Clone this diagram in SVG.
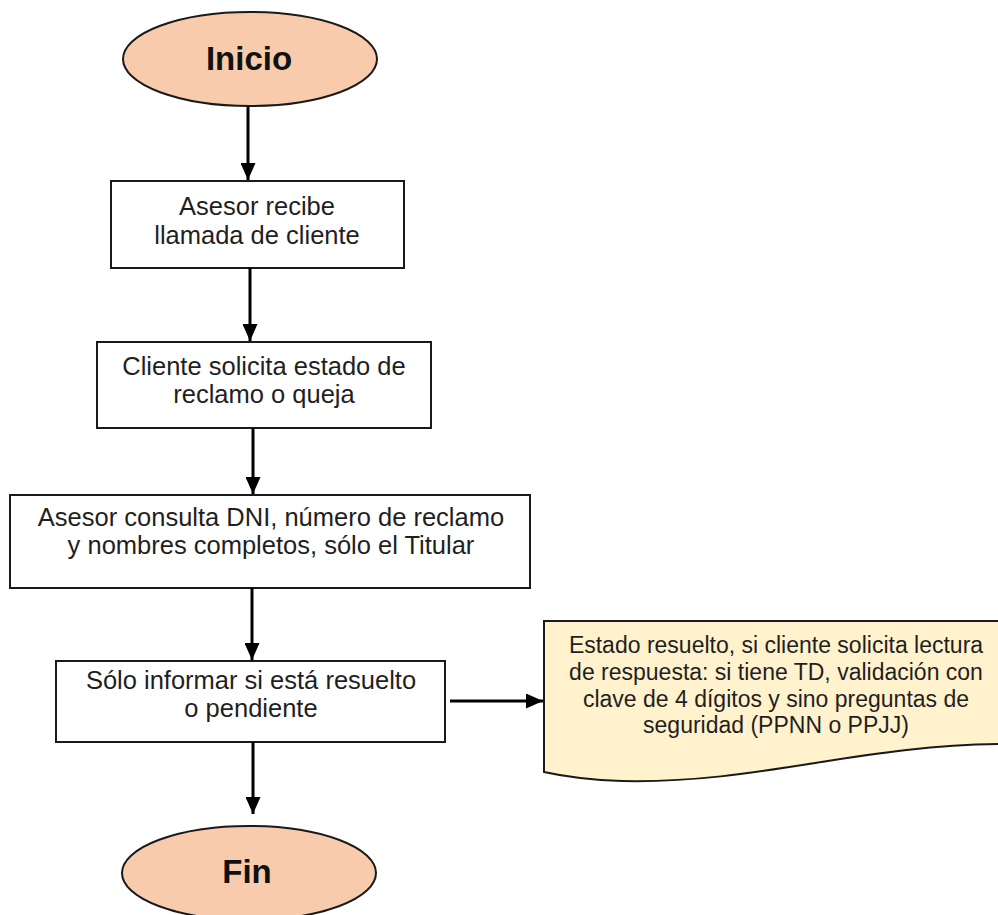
<svg xmlns="http://www.w3.org/2000/svg" width="998" height="915" viewBox="0 0 998 915">
  <defs>
    <marker id="arrow" markerUnits="userSpaceOnUse" markerWidth="17" markerHeight="15" refX="17" refY="7.5" orient="auto">
      <path d="M0,0 L17,7.5 L0,15 Z" fill="#000"/>
    </marker>
    <style>
      .term { fill: #F8CBAD; stroke: #1a1a1a; stroke-width: 2; }
      .box { fill: #ffffff; stroke: #1a1a1a; stroke-width: 2; }
      .note { fill: #FFF2CC; stroke: #1a1a1a; stroke-width: 2; }
      .t { font-family: "Liberation Sans", Arial, sans-serif; font-size: 25.5px; fill: #1f1f1f; text-anchor: middle; }
      .tn { font-family: "Liberation Sans", Arial, sans-serif; font-size: 23px; fill: #1f1f1f; text-anchor: middle; }
      .tb { font-family: "Liberation Sans", Arial, sans-serif; font-size: 33px; font-weight: bold; fill: #111; text-anchor: middle; }
      .conn { stroke: #000; stroke-width: 3; fill: none; marker-end: url(#arrow); }
    </style>
  </defs>
  <rect width="998" height="915" fill="#ffffff"/>

  <g id="inicio">
    <ellipse class="term" cx="250" cy="59" rx="127" ry="47"/>
    <text class="tb" x="249" y="70">Inicio</text>
  </g>

  <g id="recibe-llamada">
    <rect class="box" x="111" y="181" width="293" height="87"/>
    <text class="t" x="257" y="215">Asesor recibe</text>
    <text class="t" x="257" y="244">llamada de cliente</text>
  </g>

  <g id="solicita-estado">
    <rect class="box" x="97" y="342" width="334" height="86"/>
    <text class="t" x="264" y="375">Cliente solicita estado de</text>
    <text class="t" x="264" y="403">reclamo o queja</text>
  </g>

  <g id="consulta-dni">
    <rect class="box" x="10" y="495" width="520" height="93"/>
    <text class="t" x="271" y="526">Asesor consulta DNI, número de reclamo</text>
    <text class="t" x="271" y="554">y nombres completos, sólo el Titular</text>
  </g>

  <g id="informar">
    <rect class="box" x="56" y="661" width="389" height="81"/>
    <text class="t" x="251" y="689">Sólo informar si está resuelto</text>
    <text class="t" x="251" y="717">o pendiente</text>
  </g>

  <g id="nota-estado">
    <path class="note" d="M544,621 H1010 V744 C860,744 760,784 622,781 C588,780 562,776 544,772 Z"/>
    <text class="tn" x="776" y="653">Estado resuelto, si cliente solicita lectura</text>
    <text class="tn" x="776" y="680">de respuesta: si tiene TD, validación con</text>
    <text class="tn" x="776" y="707">clave de 4 dígitos y sino preguntas de</text>
    <text class="tn" x="776" y="733">seguridad (PPNN o PPJJ)</text>
  </g>

  <g id="fin">
    <ellipse class="term" cx="249" cy="873" rx="127" ry="47"/>
    <text class="tb" x="247" y="883">Fin</text>
  </g>

  <g id="connectors">
    <line class="conn" x1="248" y1="106" x2="248" y2="180"/>
    <line class="conn" x1="250" y1="268" x2="250" y2="341"/>
    <line class="conn" x1="253" y1="428" x2="253" y2="494"/>
    <line class="conn" x1="252" y1="588" x2="252" y2="660"/>
    <line class="conn" x1="253" y1="742" x2="253" y2="814"/>
    <line class="conn" x1="450" y1="701" x2="543" y2="701"/>
  </g>
</svg>
